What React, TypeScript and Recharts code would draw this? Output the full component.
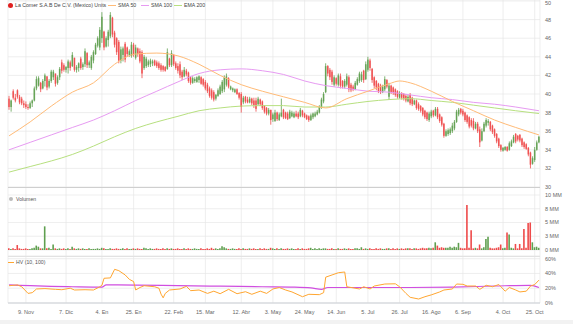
import React from 'react';
import { ComposedChart, Bar, Line, XAxis, YAxis, CartesianGrid, Cell } from 'recharts';

const N = 252;
const tickIdx = [8, 27, 44, 59, 78, 93, 110, 125, 140, 155, 170, 185, 200, 215, 234, 249];
const tickLabels = ['9. Nov', '7. Dic', '4. En', '25. En', '22. Feb', '15. Mar', '12. Abr', '3. May', '24. May', '14. Jun', '5. Jul', '26. Jul', '16. Ago', '6. Sep', '4. Oct', '25. Oct'];
const priceTicks = [30, 32, 34, 36, 38, 40, 42, 44, 46, 48, 50];
const volTicks = [0, 2.5, 5, 7.5, 10];
const hvTicks = [0, 20, 40, 60];

// [open, high, low, close]
const priceOHLC: number[][] = [
  [39.5,39.8,38.3,38.6],[38.6,39.4,38.1,39.3],[40.3,40.5,39.4,39.6],[39.6,40.0,39.1,39.3],[40.4,40.5,39.5,39.7],
  [39.7,39.9,38.9,39.1],[39.5,39.7,38.8,39.0],[39.0,39.3,38.5,38.8],[38.9,39.2,38.4,38.6],[38.6,38.9,38.3,38.5],
  [38.5,39.2,38.4,39.0],[39.0,39.4,38.6,39.3],[39.3,40.8,39.2,40.6],[40.6,41.9,40.4,41.6],[40.9,41.9,40.8,41.7],
  [41.2,41.3,40.2,40.5],[40.6,41.6,40.5,41.4],[41.4,42.2,40.8,42.0],[41.9,41.9,40.4,40.7],[40.8,41.6,40.6,41.4],
  [41.4,42.6,41.2,42.4],[41.8,42.6,41.5,42.4],[42.2,42.2,40.8,41.1],[41.2,42.0,41.0,41.8],[41.8,42.9,41.5,42.7],
  [43.4,43.7,42.2,42.5],[43.1,43.3,42.4,42.6],[42.6,43.0,42.3,42.9],[42.8,43.7,42.2,43.5],[43.4,43.6,42.5,42.8],
  [43.0,44.5,42.9,44.2],[43.9,43.9,42.4,42.6],[42.6,43.1,42.3,42.9],[42.8,43.4,42.4,43.3],[43.8,44.0,42.6,42.8],
  [42.9,43.4,42.6,43.2],[43.2,44.9,42.9,44.6],[44.4,44.5,42.8,43.1],[43.1,43.6,42.8,43.4],[42.8,44.2,42.6,44.0],
  [43.6,44.7,43.3,44.5],[44.3,45.5,44.2,45.3],[45.2,46.2,45.0,46.0],[45.0,47.2,44.7,46.9],[46.0,48.8,45.5,48.3],
  [46.7,46.8,44.7,45.0],[45.1,46.2,45.0,46.0],[45.8,46.9,45.1,46.7],[46.2,48.8,46.0,48.5],[48.2,48.3,46.1,46.4],
  [46.6,46.8,45.0,45.3],[46.0,46.1,44.2,44.5],[45.6,45.8,43.3,43.6],[43.6,45.1,43.3,44.8],[44.2,45.1,43.5,44.9],
  [45.4,45.6,43.4,43.7],[45.0,45.1,44.0,44.3],[44.2,44.8,44.0,44.6],[44.1,45.6,43.9,45.3],[45.3,45.5,44.0,44.3],
  [43.9,45.3,43.7,45.0],[44.9,45.0,44.0,44.3],[44.6,44.9,43.3,43.5],[44.5,44.7,41.7,42.2],[42.8,44.2,42.6,44.0],
  [43.0,44.0,42.8,43.8],[43.1,43.7,42.9,43.5],[43.2,43.8,42.9,43.6],[43.3,43.7,43.0,43.5],[43.6,43.7,43.0,43.1],
  [43.4,43.6,42.8,43.0],[43.3,43.5,42.6,42.8],[43.1,43.3,42.4,42.6],[43.0,43.1,42.4,42.6],[42.9,43.0,42.4,42.5],
  [42.7,44.9,42.6,44.5],[43.8,43.9,42.9,43.1],[43.1,44.7,42.9,44.4],[44.2,44.3,43.0,43.2],[43.3,43.5,42.6,42.8],
  [43.0,43.3,42.2,42.5],[43.2,43.5,41.7,42.0],[42.4,42.6,41.5,41.8],[41.9,42.9,41.8,42.6],[42.5,42.7,41.9,42.1],
  [42.3,42.4,41.2,41.4],[41.8,41.9,41.0,41.2],[41.2,41.9,41.1,41.7],[41.4,41.8,41.2,41.6],[41.3,41.9,41.2,41.8],
  [41.5,42.0,41.2,41.9],[41.8,41.9,41.0,41.1],[41.6,41.7,40.8,41.0],[41.3,41.5,40.4,40.6],[41.0,41.2,40.1,40.3],
  [40.6,40.8,39.6,39.8],[40.4,40.6,39.4,39.6],[40.2,40.4,39.2,39.4],[39.5,40.0,39.3,39.9],[39.8,40.6,39.7,40.4],
  [40.0,41.0,39.9,40.8],[40.3,41.5,40.1,41.3],[40.5,42.0,40.2,41.8],[41.0,42.2,40.8,41.9],[41.7,41.8,40.6,40.8],
  [40.5,40.9,40.4,40.8],[40.4,40.7,40.2,40.6],[40.2,40.6,40.1,40.5],[40.5,40.6,39.9,40.0],[40.1,40.2,39.4,39.6],
  [40.0,40.2,38.0,38.6],[39.1,39.8,38.9,39.6],[39.7,39.8,39.0,39.2],[39.4,39.7,39.0,39.1],[39.1,39.7,39.0,39.5],
  [39.5,39.6,38.8,39.0],[39.3,39.6,38.5,38.8],[39.3,39.6,38.1,38.4],[38.9,39.7,38.8,39.5],[39.4,39.5,38.7,38.9],
  [39.2,39.3,38.3,38.5],[38.7,38.8,37.9,38.1],[38.5,38.6,37.7,37.9],[37.9,38.5,37.7,38.3],[38.3,38.3,36.7,37.2],
  [37.3,38.0,37.0,37.8],[37.1,38.3,37.0,38.0],[38.0,38.1,37.1,37.3],[37.2,38.0,37.1,37.8],[37.6,39.5,37.5,38.0],
  [38.3,38.4,37.3,37.5],[38.0,38.1,37.3,37.4],[37.9,38.1,37.2,37.3],[37.4,38.3,37.3,38.1],[37.6,38.2,37.5,38.0],
  [37.5,38.1,37.4,37.9],[37.9,38.2,37.5,37.6],[37.9,38.1,37.3,37.5],[37.6,38.5,37.5,38.3],[38.2,38.3,37.5,37.7],
  [37.9,38.0,37.4,37.5],[37.7,37.8,37.2,37.3],[37.6,37.7,37.0,37.2],[37.2,37.9,37.1,37.7],[37.5,38.0,37.3,37.9],
  [37.6,38.1,37.5,37.9],[37.8,38.3,37.7,38.1],[38.0,38.8,37.9,38.6],[38.5,39.6,38.4,39.4],[39.2,40.2,39.0,40.0],
  [40.2,43.3,40.1,43.0],[43.0,43.1,41.9,42.2],[42.6,42.8,41.5,41.8],[42.4,42.6,41.0,41.3],[41.0,42.0,40.8,41.8],
  [41.7,41.8,40.9,41.1],[41.0,42.2,40.8,42.0],[41.9,42.2,40.6,40.9],[41.4,41.5,40.6,40.8],[40.8,41.6,40.6,41.4],
  [41.0,42.2,40.8,41.9],[41.8,42.0,40.2,40.5],[41.0,41.2,40.2,40.4],[40.8,41.0,40.3,40.5],[40.5,41.4,40.4,41.2],
  [41.0,41.8,40.9,41.6],[41.4,42.4,41.2,42.2],[41.5,42.4,41.3,42.1],[42.5,42.6,41.2,41.5],[41.6,43.5,41.5,43.2],
  [42.6,44.0,42.4,43.7],[43.6,43.8,42.5,42.8],[42.7,42.8,41.2,41.5],[41.8,41.9,40.6,40.9],[41.4,41.5,40.4,40.7],
  [41.1,41.2,40.1,40.3],[40.9,41.1,40.0,40.2],[40.2,41.0,40.1,40.8],[40.5,41.9,40.3,41.6],[41.5,41.6,40.6,40.8],
  [39.7,41.2,39.4,40.9],[40.9,41.0,40.0,40.2],[40.7,40.8,39.9,40.1],[40.5,40.6,39.7,39.9],[40.3,40.4,39.5,39.7],
  [39.6,40.3,39.5,40.1],[40.1,40.2,39.4,39.6],[40.0,40.1,39.3,39.5],[39.8,40.0,39.1,39.3],[39.2,39.9,39.1,39.7],
  [39.9,40.1,38.8,39.0],[39.6,39.7,38.7,38.9],[38.9,39.4,38.8,39.3],[39.3,39.4,38.3,38.5],[38.9,39.1,38.2,38.4],
  [38.7,38.8,38.0,38.2],[38.5,38.6,37.6,37.8],[38.2,38.3,37.3,37.5],[38.0,38.1,37.1,37.3],[37.2,38.1,37.0,37.9],
  [37.6,38.3,37.4,38.1],[38.2,38.3,37.5,37.7],[37.7,38.6,37.6,38.4],[38.4,38.6,37.3,37.5],[37.8,37.9,36.9,37.1],
  [37.5,37.6,36.5,36.7],[36.8,36.9,35.3,35.5],[35.5,36.2,35.4,36.0],[35.7,36.3,35.5,36.1],[35.8,36.4,35.6,36.2],
  [36.0,36.9,35.8,36.6],[36.3,37.2,36.1,37.0],[37.0,38.3,36.9,38.1],[37.8,38.5,37.6,38.3],[38.4,38.5,37.8,38.0],
  [38.2,38.4,37.6,37.8],[38.0,38.1,37.0,37.2],[37.7,37.8,36.8,37.0],[37.5,37.6,36.3,36.5],[37.2,37.4,36.4,36.6],
  [37.1,37.4,36.1,36.3],[36.3,37.0,36.2,36.8],[36.8,37.0,35.8,36.0],[36.2,36.5,34.3,34.8],[35.0,36.3,34.9,36.0],
  [36.0,37.0,35.9,36.8],[36.6,37.4,36.4,37.2],[36.9,37.3,36.6,37.1],[37.0,37.1,36.0,36.2],[36.6,36.7,35.7,35.9],
  [36.2,36.3,35.3,35.5],[35.7,35.8,34.7,34.9],[35.2,35.3,34.2,34.4],[34.5,34.6,33.8,34.0],[33.9,34.3,33.8,34.2],
  [34.0,34.4,33.9,34.3],[34.3,34.4,33.8,33.9],[34.0,34.9,33.9,34.7],[34.4,35.1,34.3,34.9],[34.8,35.6,34.7,35.4],
  [35.7,35.8,34.7,34.9],[35.5,35.6,34.9,35.1],[35.6,35.7,34.8,35.0],[35.2,35.3,34.3,34.5],[34.8,34.9,34.1,34.3],
  [34.6,34.7,34.0,34.1],[34.2,34.3,33.3,33.5],[33.7,33.8,32.0,32.4],[32.5,33.3,32.4,33.1],[32.9,34.3,32.7,34.0],
  [34.0,35.0,33.9,34.8],[34.8,35.5,34.7,35.4],
];

// volume in millions
const volumeMM = [
  0.3,0.2,0.3,0.2,0.9,0.3,0.2,0.2,0.3,0.2,
  0.2,0.3,0.4,0.8,0.6,0.3,0.3,4.3,0.3,0.4,
  0.2,1.0,0.3,0.2,0.3,0.2,0.3,0.2,0.3,0.2,
  0.6,0.3,0.2,0.3,0.2,0.3,0.2,0.2,0.3,0.2,
  0.2,0.2,0.3,0.2,0.4,0.3,0.2,0.2,0.3,0.2,
  0.2,0.3,0.2,0.2,0.3,0.2,0.3,0.2,0.2,0.3,
  0.2,0.3,0.2,0.2,0.4,0.3,0.2,0.3,0.2,0.2,
  0.3,0.2,0.2,0.3,0.2,0.3,0.2,0.3,0.2,0.2,
  0.3,0.2,0.2,0.3,0.2,0.3,0.2,0.2,0.3,0.2,
  0.2,0.3,0.2,0.2,0.3,0.2,0.4,0.2,0.3,0.2,
  0.3,0.7,0.5,0.3,0.2,0.2,0.3,0.2,0.2,0.3,
  0.2,0.3,0.2,0.2,0.3,0.2,0.3,0.2,0.2,0.3,
  0.2,0.3,0.2,0.2,0.4,0.3,0.2,0.3,0.2,0.3,
  0.2,0.2,0.3,0.2,0.3,0.2,0.2,0.3,0.2,0.3,
  0.2,0.2,0.3,0.4,0.2,0.3,0.2,0.3,0.2,0.3,
  0.3,0.2,0.2,0.3,0.2,0.2,0.3,0.2,0.2,0.3,
  0.2,0.3,0.2,0.2,0.3,0.3,0.2,0.5,0.2,0.3,
  0.2,0.3,0.2,0.2,0.3,0.2,0.3,0.2,0.2,0.3,
  0.3,0.2,0.3,0.2,0.3,0.2,0.3,0.2,0.3,0.3,
  0.3,0.2,0.3,0.3,0.2,0.3,0.4,0.3,0.3,0.4,
  0.3,0.4,1.4,0.8,0.4,0.5,0.4,0.4,0.4,0.6,
  0.4,0.6,0.5,1.3,0.4,0.3,0.3,8.2,0.4,3.6,
  0.3,0.4,0.3,1.0,0.3,0.5,2.0,2.4,0.4,0.3,
  0.3,0.4,0.5,1.0,0.3,0.4,3.2,2.8,0.4,0.3,
  1.1,0.3,1.1,0.3,3.8,0.4,4.9,5.0,1.4,0.5,
  0.6,0.4,
];

// [day index, value]
const sma50Pts = [[0,35.5],[10,37.0],[20,38.7],[30,40.2],[40,41.2],[50,43.2],[60,44.3],[70,44.4],[80,44.1],[90,43.2],[100,42.0],[110,41.0],[120,40.3],[130,39.7],[140,39.1],[150,38.5],[160,39.5],[170,40.3],[180,41.1],[185,41.4],[190,41.2],[200,40.3],[210,39.2],[220,38.2],[230,37.2],[240,36.4],[251,35.6]];
const sma100Pts = [[0,34.0],[10,34.8],[20,35.6],[30,36.4],[40,37.2],[50,38.2],[60,39.3],[70,40.3],[80,41.3],[90,42.2],[100,42.6],[110,42.7],[120,42.5],[130,42.1],[140,41.4],[150,40.9],[160,40.6],[170,40.3],[180,40.2],[190,39.9],[200,39.6],[210,39.4],[220,39.1],[230,38.9],[240,38.6],[251,38.2]];
const ema200Pts = [[0,31.6],[10,32.2],[20,32.8],[30,33.5],[40,34.4],[50,35.4],[60,36.3],[70,37.0],[80,37.6],[90,38.2],[100,38.5],[110,38.7],[120,38.75],[130,38.75],[140,38.6],[150,38.6],[160,38.9],[170,39.2],[180,39.4],[190,39.5],[200,39.3],[210,39.1],[220,38.8],[230,38.5],[240,38.2],[251,37.9]];
const hv10Pts = [[0,23.4],[4,24.5],[6,22],[9,13],[11,14],[13,19],[17,19.5],[22,18.5],[25,18],[29,20],[31,17.6],[36,18],[40,17.6],[43,22],[44,24],[45,33.5],[48,34],[50,45.6],[52,43.8],[55,38],[57,32],[59,29],[60,17.6],[62,21],[64,23.4],[69,22],[71,20],[72,12],[73,7],[74,13],[76,17.6],[81,19],[84,22.6],[86,16.7],[90,17.6],[94,13],[97,16],[100,12.6],[104,18.5],[108,12.6],[112,15.3],[115,11.8],[119,16],[122,13],[125,19],[128,21],[131,17.6],[134,15],[139,8.5],[142,11.8],[147,11.3],[149,14],[150,35],[153,38],[156,41],[159,42],[160,22],[166,19],[168,22],[171,19],[173,23],[178,25.7],[183,26],[185,22],[188,13],[190,7.7],[194,5.4],[197,8.5],[200,11],[204,15],[206,17.6],[210,19],[212,25.7],[215,25.3],[217,23],[221,23],[223,18.5],[226,24],[229,22],[232,25],[235,16],[237,21],[240,17.6],[242,15],[245,16],[247,23],[249,25],[251,31]];
const hv100Pts = [[0,24.5],[10,23.5],[20,22.5],[30,22],[44,21.5],[46,24.5],[60,24.3],[80,23.5],[100,22.8],[120,22],[135,21.5],[143,20.5],[148,18.5],[151,21],[170,21],[190,21],[210,21.5],[230,23],[247,24],[251,21]];

const RED = '#ee4a4a';
const GREEN = '#5f9f4f';
const C_SMA50 = '#ffbb77';
const C_SMA100 = '#e79bf2';
const C_EMA200 = '#b7e07f';
const C_HV10 = '#ffa630';
const C_HV100 = '#d04ee0';
const FONT = "'Liberation Sans', Arial, sans-serif";
const GRID = '#e6e6e6';

const toMap = (pts: number[][]) => new Map(pts.map((p) => [p[0], p[1]]));
const m50 = toMap(sma50Pts), m100 = toMap(sma100Pts), m200 = toMap(ema200Pts), mhv10 = toMap(hv10Pts), mhv100 = toMap(hv100Pts);

const data = Array.from({ length: N }, (_, i) => {
  const [o, h, l, c] = priceOHLC[i];
  return {
    i, o, h, l, c,
    range: [l, h],
    up: c >= o,
    vol: volumeMM[i],
    sma50: m50.has(i) ? m50.get(i) : null,
    sma100: m100.has(i) ? m100.get(i) : null,
    ema200: m200.has(i) ? m200.get(i) : null,
    hv10: mhv10.has(i) ? mhv10.get(i) : null,
    hv100: mhv100.has(i) ? mhv100.get(i) : null,
  };
});

const Candle = (props: any) => {
  const { x, y, width, height, payload } = props;
  if (!payload) return null;
  const { o, h, l, c } = payload;
  const top = Math.min(y, y + height);
  const hh = Math.abs(height);
  const ppu = hh / Math.max(h - l, 0.0001);
  const cx = x + width / 2;
  const yO = top + (h - o) * ppu;
  const yC = top + (h - c) * ppu;
  const color = c >= o ? GREEN : RED;
  const bTop = Math.min(yO, yC);
  const bH = Math.max(Math.abs(yC - yO), 0.8);
  return (
    <g>
      <line x1={cx} x2={cx} y1={top} y2={top + hh} stroke={color} strokeWidth={0.8} />
      <rect x={cx - 0.8} y={bTop} width={1.6} height={bH} fill={color} fillOpacity={0.85} />
    </g>
  );
};

const xAxisCommon = {
  type: 'number' as const,
  dataKey: 'i',
  domain: [-0.5, N - 0.5],
  ticks: tickIdx,
  allowDataOverflow: true,
  interval: 0 as const,
};

const W = 573;
const MARGIN = { top: 0, right: 0, bottom: 0, left: 8 };
const YW = 33;

const makeYTick = (fmt: (v: number) => string) => (props: any) => {
  const { x, y, payload } = props;
  return (
    <text x={x + 3} y={Math.max(y, 3.5)} dy="0.35em" textAnchor="start" fontSize={5.5} fill="#666" fontFamily={FONT}>
      {fmt(payload.value)}
    </text>
  );
};
const XTick = (props: any) => {
  const { x, y, payload } = props;
  const k = tickIdx.indexOf(payload.value);
  return (
    <text x={x} y={y + 5} dy="0.71em" textAnchor="middle" fontSize={5.5} fill="#666" fontFamily={FONT}>
      {k >= 0 ? tickLabels[k] : ''}
    </text>
  );
};

const legendText = { position: 'absolute' as const, fontSize: 5.2, color: '#444', whiteSpace: 'nowrap' as const, lineHeight: '7px', top: 1.5 };
const legendLine = (left: number, color: string) => ({ position: 'absolute' as const, left, top: 4.6, width: 8, height: 1.2, background: color });

export default function App() {
  return (
    <div style={{ position: 'absolute', left: 0, top: 0, width: W, height: 324, background: '#fff', fontFamily: FONT, overflow: 'hidden' }}>
      {/* Price panel: plot y 0..187 */}
      <div style={{ position: 'absolute', left: 0, top: 0 }}>
        <ComposedChart width={W} height={195} data={data} margin={{ ...MARGIN, bottom: 8 }}>
          <CartesianGrid stroke={GRID} strokeWidth={0.7} />
          <XAxis {...xAxisCommon} hide />
          <YAxis orientation="right" width={YW} domain={[30, 50.107]} allowDataOverflow ticks={priceTicks} interval={0}
            axisLine={false} tickLine={false} tickSize={0} tick={makeYTick((v) => `${v}`)} />
          <Bar dataKey="range" barSize={2} shape={<Candle />} isAnimationActive={false} />
          <Line dataKey="ema200" type="monotone" connectNulls stroke={C_EMA200} strokeWidth={1} dot={false} isAnimationActive={false} />
          <Line dataKey="sma100" type="monotone" connectNulls stroke={C_SMA100} strokeWidth={1} dot={false} isAnimationActive={false} />
          <Line dataKey="sma50" type="monotone" connectNulls stroke={C_SMA50} strokeWidth={1} dot={false} isAnimationActive={false} />
        </ComposedChart>
      </div>
      {/* Volume panel: plot y 187..256 */}
      <div style={{ position: 'absolute', left: 0, top: 187 }}>
        <ComposedChart width={W} height={69} data={data} margin={MARGIN}>
          <CartesianGrid stroke={GRID} strokeWidth={0.7} />
          <XAxis {...xAxisCommon} hide />
          <YAxis orientation="right" width={YW} domain={[-1.0909, 11.4545]} allowDataOverflow ticks={volTicks} interval={0}
            axisLine={false} tickLine={false} tickSize={0} tick={makeYTick((v) => `${Math.round(v)} MM`)} />
          <Bar dataKey="vol" barSize={1.6} isAnimationActive={false}>
            {data.map((d, k) => (
              <Cell key={k} fill={d.up ? GREEN : RED} />
            ))}
          </Bar>
        </ComposedChart>
      </div>
      {/* HV panel: plot y 256..303 */}
      <div style={{ position: 'absolute', left: 0, top: 256 }}>
        <ComposedChart width={W} height={65} data={data} margin={MARGIN}>
          <CartesianGrid stroke={GRID} strokeWidth={0.7} />
          <XAxis {...xAxisCommon} height={18} axisLine={{ stroke: '#ccd0d6' }} tickLine={false} tickSize={0} tick={<XTick />} />
          <YAxis orientation="right" width={YW} domain={[0, 63.66]} allowDataOverflow ticks={hvTicks} interval={0}
            axisLine={false} tickLine={false} tickSize={0} tick={makeYTick((v) => `${v}%`)} />
          <Line dataKey="hv100" type="monotone" connectNulls stroke={C_HV100} strokeWidth={1.2} dot={false} isAnimationActive={false} />
          <Line dataKey="hv10" type="linear" connectNulls stroke={C_HV10} strokeWidth={1} dot={false} isAnimationActive={false} />
        </ComposedChart>
      </div>
      {/* separators */}
      <div style={{ position: 'absolute', left: 8, top: 186.5, width: 532, height: 1, background: '#cfcfcf' }} />
      <div style={{ position: 'absolute', left: 8, top: 255.5, width: 532, height: 1, background: '#e2e2e2' }} />
      <div style={{ position: 'absolute', left: 0, top: 320, width: W, height: 4, background: '#f2f2f2' }} />

      {/* legends */}
      <div style={{ position: 'absolute', left: 8, top: 2.5, width: 5, height: 5, borderRadius: 3, background: '#e02020' }} />
      <div style={{ ...legendText, left: 15 }}>La Comer S.A.B De C.V. (Mexico) Units</div>
      <div style={legendLine(108, C_SMA50)} />
      <div style={{ ...legendText, left: 118 }}>SMA 50</div>
      <div style={legendLine(141, C_SMA100)} />
      <div style={{ ...legendText, left: 151 }}>SMA 100</div>
      <div style={legendLine(174, C_EMA200)} />
      <div style={{ ...legendText, left: 184 }}>EMA 200</div>

      <div style={{ position: 'absolute', left: 9, top: 197, width: 4, height: 4, borderRadius: 2, background: '#bbb' }} />
      <div style={{ ...legendText, left: 16, top: 195.5, color: '#555' }}>Volumen</div>

      <div style={{ position: 'absolute', left: 8, top: 261.8, width: 6, height: 1.5, background: C_HV10 }} />
      <div style={{ ...legendText, left: 16, top: 259, color: '#555' }}>HV (10, 100)</div>
    </div>
  );
}
